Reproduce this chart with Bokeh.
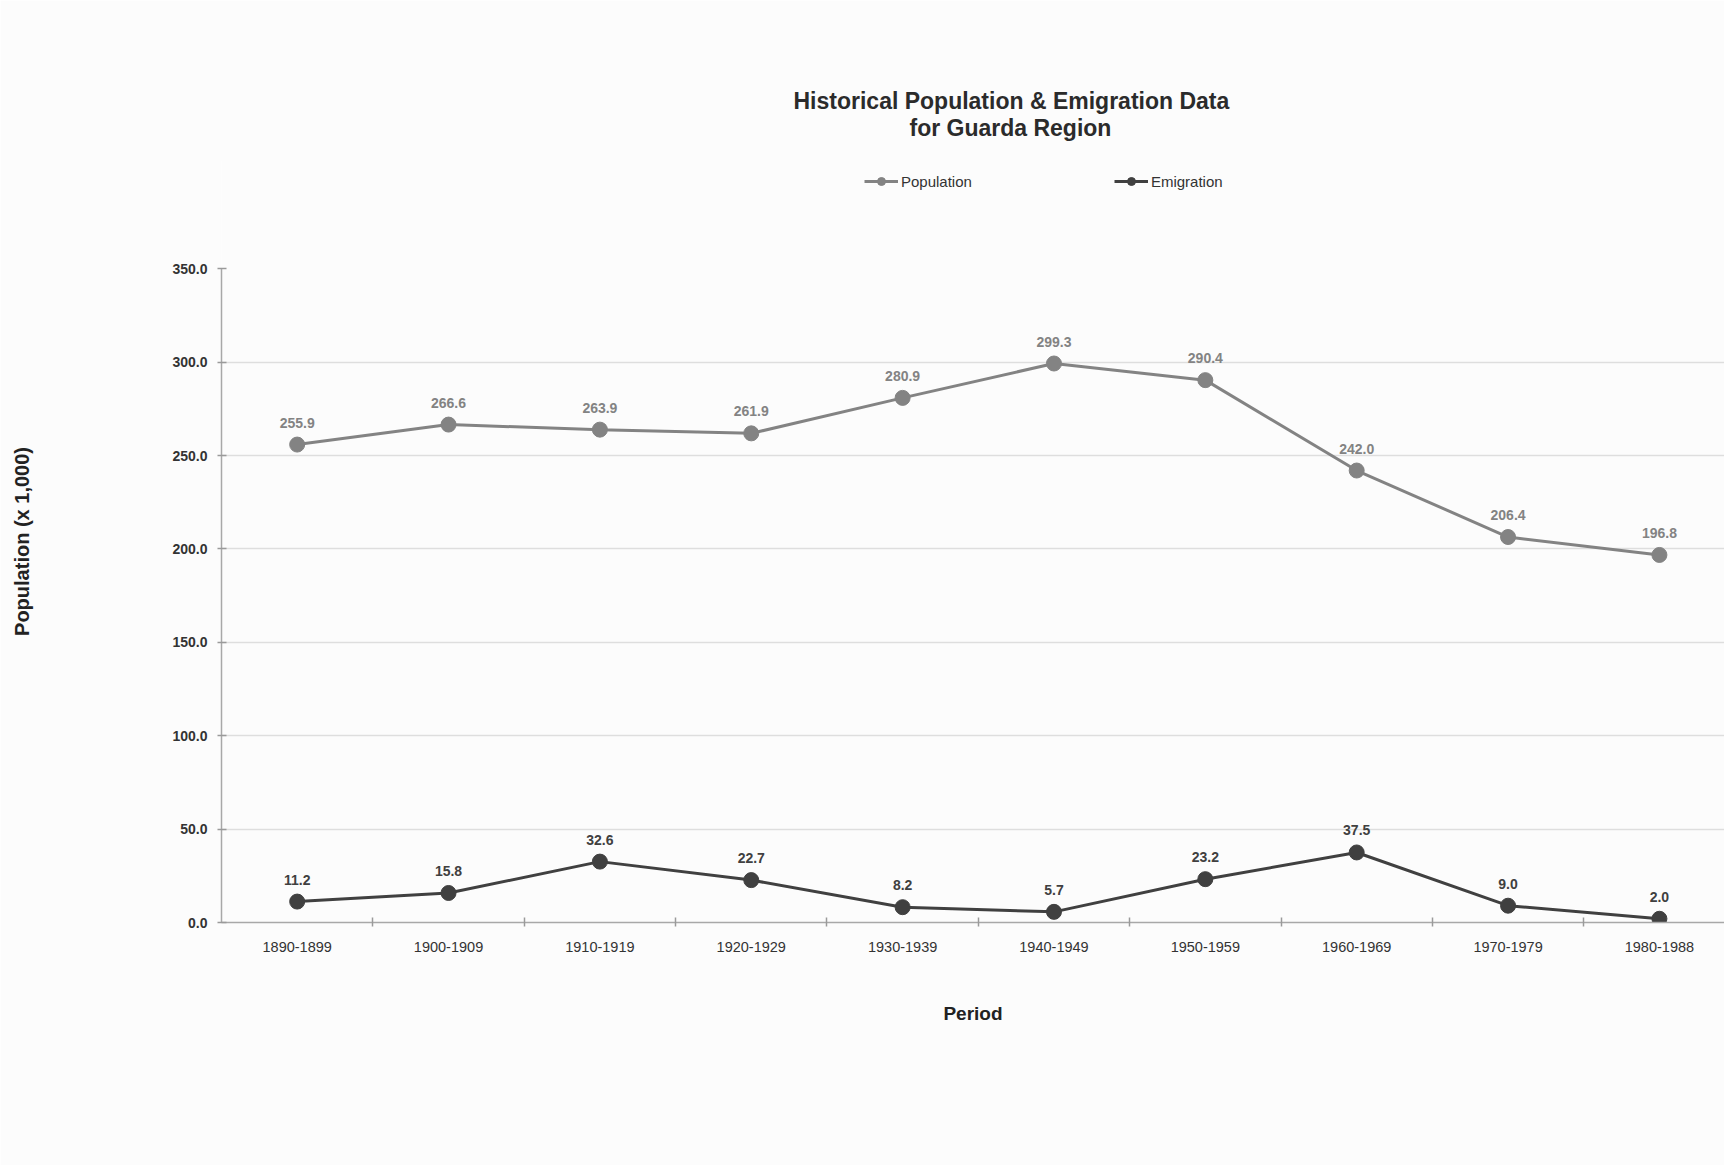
from bokeh.plotting import figure
from bokeh.models import (ColumnDataSource, Range1d, FixedTicker, LabelSet, Legend,
                          LegendItem, Title, NumeralTickFormatter)
from bokeh.core.properties import value
from bokeh.embed import file_html
from bokeh.resources import INLINE

# ---- data ----
periods = ["1890-1899", "1900-1909", "1910-1919", "1920-1929", "1930-1939",
           "1940-1949", "1950-1959", "1960-1969", "1970-1979", "1980-1988"]
population = [255.9, 266.6, 263.9, 261.9, 280.9, 299.3, 290.4, 242.0, 206.4, 196.8]
emigration = [11.2, 15.8, 32.6, 22.7, 8.2, 5.7, 23.2, 37.5, 9.0, 2.0]
y_ticks = [0, 50, 100, 150, 200, 250, 300, 350]
grid_ticks = [50, 100, 150, 200, 250, 300]

FONT = "Liberation Sans"
POP_COLOR = "#838383"
EMI_COLOR = "#404040"
BG = "#fcfcfc"

xpos = [i + 0.5 for i in range(len(periods))]
boundaries = [i for i in range(1, len(periods))]

src = ColumnDataSource(dict(
    x=xpos, period=periods,
    pop=population, emi=emigration,
    pop_txt=["%.1f" % v for v in population],
    emi_txt=["%.1f" % v for v in emigration],
))

# the frame reaches up to the legend row; the y axis itself stops at 350
p = figure(width=1724, height=1165, output_backend="svg", toolbar_location=None,
           x_range=Range1d(0, 9.93), y_range=Range1d(0, 408), title=None,
           min_border_left=221, min_border_top=160, min_border_bottom=243,
           min_border_right=0)
p.background_fill_color = BG
p.border_fill_color = BG
p.outline_line_color = None

# lines and markers
l_pop = p.line("x", "pop", source=src, line_color=POP_COLOR, line_width=3)
s_pop = p.scatter("x", "pop", source=src, size=15, fill_color=POP_COLOR,
                  line_color=POP_COLOR)
l_emi = p.line("x", "emi", source=src, line_color=EMI_COLOR, line_width=3)
s_emi = p.scatter("x", "emi", source=src, size=15, fill_color=EMI_COLOR,
                  line_color=EMI_COLOR)

p.add_layout(LabelSet(x="x", y="pop", text="pop_txt", source=src, y_offset=22,
                      text_align="center", text_baseline="middle",
                      text_font=value(FONT), text_font_size="14px",
                      text_font_style="bold", text_color=POP_COLOR))
p.add_layout(LabelSet(x="x", y="emi", text="emi_txt", source=src, y_offset=22,
                      text_align="center", text_baseline="middle",
                      text_font=value(FONT), text_font_size="14px",
                      text_font_style="bold", text_color=EMI_COLOR))

legend = Legend(items=[LegendItem(label="Population", renderers=[l_pop, s_pop]),
                       LegendItem(label="Emigration", renderers=[l_emi, s_emi])],
                orientation="horizontal", location=(643, 731), spacing=142,
                glyph_width=34, glyph_height=20, label_standoff=3, padding=0, margin=0,
                border_line_color=None, background_fill_alpha=0,
                label_text_font=FONT, label_text_font_size="15px",
                label_text_color="#333333")
p.add_layout(legend, "center")

# titles (first added sits closest to the frame)
t2 = Title(text="for Guarda Region", align="left", offset=688, standoff=40,
           text_font=FONT, text_font_size="23px", text_font_style="bold",
           text_color="#2b2b2b")
t1 = Title(text="Historical Population & Emigration Data", align="left", offset=572,
           standoff=-43, text_font=FONT, text_font_size="23px", text_font_style="bold",
           text_color="#2b2b2b")
p.add_layout(t2, "above")
p.add_layout(t1, "above")

# axes
xa = p.xaxis[0]
xa.ticker = FixedTicker(ticks=xpos, minor_ticks=boundaries)
xa.major_label_overrides = {x: lab for x, lab in zip(xpos, periods)}
xa.major_tick_line_color = None
xa.major_tick_out = 0
xa.major_tick_in = 0
xa.minor_tick_in = 5
xa.minor_tick_out = 4
xa.minor_tick_line_color = "#9a9a9a"
xa.minor_tick_line_width = 1.5
xa.axis_line_color = "#a8a8a8"
xa.axis_line_width = 1.5
xa.major_label_standoff = 15
xa.major_label_text_font = FONT
xa.major_label_text_font_size = "14.5px"
xa.major_label_text_color = "#333333"
xa.axis_label = "Period"
xa.axis_label_text_font = FONT
xa.axis_label_text_font_size = "19px"
xa.axis_label_text_font_style = "bold"
xa.axis_label_text_color = "#222222"
xa.axis_label_standoff = 48

ya = p.yaxis[0]
ya.ticker = FixedTicker(ticks=y_ticks)
ya.bounds = (0, 350)
ya.formatter = NumeralTickFormatter(format="0.0")
ya.minor_tick_line_color = None
ya.major_tick_in = 5
ya.major_tick_out = 4
ya.major_tick_line_color = "#9a9a9a"
ya.major_tick_line_width = 1.5
ya.axis_line_color = "#a8a8a8"
ya.axis_line_width = 1.5
ya.major_label_standoff = 10
ya.major_label_text_font = FONT
ya.major_label_text_font_size = "14px"
ya.major_label_text_font_style = "bold"
ya.major_label_text_color = "#333333"
ya.axis_label = "Population (x 1,000)"
ya.axis_label_text_font = FONT
ya.axis_label_text_font_size = "20px"
ya.axis_label_text_font_style = "bold"
ya.axis_label_text_color = "#222222"
ya.axis_label_standoff = 136

p.xgrid.grid_line_color = None
p.ygrid.ticker = FixedTicker(ticks=grid_ticks)
p.ygrid.grid_line_color = "#dedede"
p.ygrid.grid_line_width = 1.5

open("out.html", "w").write(file_html(p, INLINE))
